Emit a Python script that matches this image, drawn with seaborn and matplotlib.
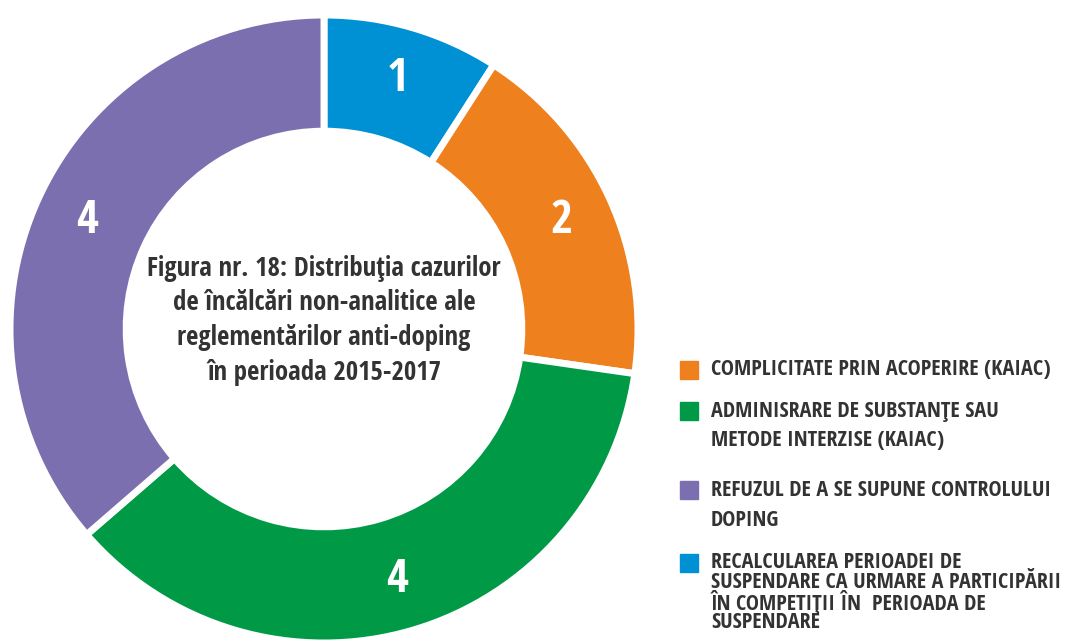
import matplotlib
matplotlib.use("Agg")
import matplotlib.pyplot as plt
import seaborn as sns
from matplotlib import font_manager as fm
from matplotlib.patches import Rectangle

# Data
categories = [
    "RECALCULAREA PERIOADEI DE\nSUSPENDARE CA URMARE A PARTICIPĂRII\nÎN COMPETIŢII ÎN  PERIOADA DE\nSUSPENDARE",
    "COMPLICITATE PRIN ACOPERIRE (KAIAC)",
    "ADMINISRARE DE SUBSTANŢE SAU\nMETODE INTERZISE (KAIAC)",
    "REFUZUL DE A SE SUPUNE CONTROLULUI\nDOPING",
]
cases = [1, 2, 4, 4]
colors = ["#0090d4", "#ef801e", "#009a46", "#7b6faf"]
title = "Figura nr. 18: Distribuţia cazurilor\nde încălcări non-analitice ale\nreglementărilor anti-doping\nîn perioada 2015-2017"

sns.set_theme(style="white")

# pick a condensed bold face close to the original
font = "DejaVu Sans"
for cand in ["Open Sans Condensed", "Fira Sans Condensed", "Asap Condensed", "Barlow Semi Condensed"]:
    try:
        fm.findfont(fm.FontProperties(family=cand, weight="bold"), fallback_to_default=False)
        font = cand
        break
    except Exception:
        pass
plt.rcParams['font.family'] = [font, 'DejaVu Sans']

W, H = 1067, 641
fig = plt.figure(figsize=(W / 100, H / 100), dpi=100)
renderer = fig.canvas.get_renderer()

def fit(t, target_px):
    # scale font so that the text's width matches the reference
    w = t.get_window_extent(renderer).width
    t.set_fontsize(t.get_fontsize() * target_px / w)

# donut: centre (324, 329) px from top, outer radius 314 px
cx, cy, r = 324, 329, 314
ax = fig.add_axes([(cx - r) / W, (H - cy - r) / H, 2 * r / W, 2 * r / H])
wedges, texts = ax.pie(
    cases, colors=colors, startangle=90, counterclock=False,
    labels=[str(v) for v in cases], labeldistance=0.83,
    wedgeprops=dict(width=0.37, edgecolor="white", linewidth=5),
    textprops=dict(color="white", fontsize=34, fontweight="bold"),
)
for t in texts:
    t.set_ha("center")
    t.set_va("center")
ax.set_xlim(-1, 1)
ax.set_ylim(-1, 1)
ax.set_aspect("equal")
ax.axis("off")

# title in the hole, one text per line
title_lines = title.split("\n")
for k, line in enumerate(title_lines):
    t = fig.text(cx / W, 1 - (268 + 34.7 * k) / H, line, ha="center", va="center",
                 fontsize=20, fontweight="bold", color="#333333")
    if k == 0:
        fit(t, 352)
        tfs = t.get_fontsize()
    else:
        t.set_fontsize(tfs)

# legend, in the order of the reference
legend_order = [1, 2, 3, 0]
row_top = [370, 411, 490, 563]   # pixel y of first text line
spacing = [0, 29.5, 30, 19.7]
lfs = None
for i, y, sp in zip(legend_order, row_top, spacing):
    fig.patches.append(Rectangle((680 / W, 1 - (y + 9) / H), 18 / W, 18 / H,
                                 transform=fig.transFigure,
                                 color=colors[i], figure=fig))
    for k, line in enumerate(categories[i].split("\n")):
        t = fig.text(711 / W, 1 - (y + k * sp) / H, line, ha="left", va="center",
                     fontsize=15, fontweight="bold", color="#333333")
        if lfs is None:
            fit(t, 342)
            lfs = t.get_fontsize()
        else:
            t.set_fontsize(lfs)

fig.savefig("out.png", dpi=100, facecolor="white")
